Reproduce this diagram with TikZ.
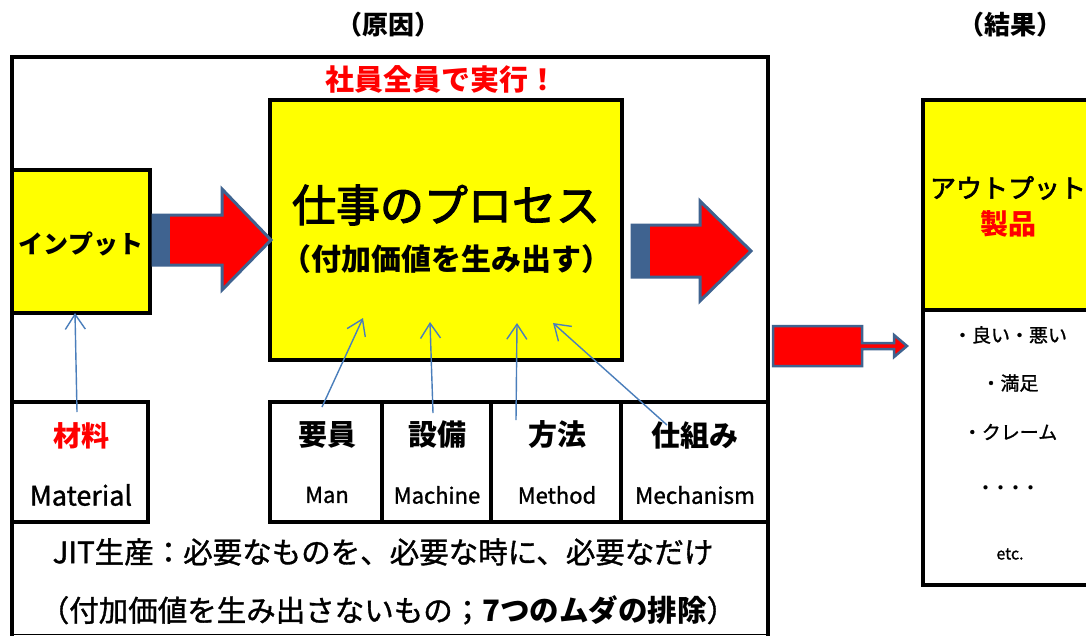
\documentclass[tikz,border=0pt]{standalone}
\usepackage{fontspec}
\setmainfont{Noto Sans CJK JP}[UprightFeatures={FakeBold=1.2}]
\newfontfamily\medfont{Noto Sans CJK JP}[FakeBold=2.5]
\usetikzlibrary{arrows.meta}
\definecolor{ayellow}{HTML}{FFFF00}
\definecolor{ared}{HTML}{FF0000}
\definecolor{aborder}{HTML}{3F6390}
\definecolor{thinblue}{HTML}{4A7EBB}
\tikzset{
  frame/.style={draw=black,line width=4pt},
  ybox/.style={draw=black,line width=4.5pt,fill=ayellow},
  wbox/.style={draw=black,line width=4pt,fill=white},
  bigarrow/.style={draw=aborder,line width=3pt,fill=ared,line join=miter},
  tail/.style={fill=aborder},
  thin/.style={draw=thinblue,line width=1.4pt,-{Straight Barb[length=15pt,width=20pt,line width=1.4pt]}},
  lbl/.style={inner sep=0pt,anchor=center},
}
\newcommand{\fs}[1]{\fontsize{#1}{#1}\selectfont}
\begin{document}
\begin{tikzpicture}[x=1pt,y=-1pt]
\useasboundingbox (0,0) rectangle (1086,635);
\fill[white] (0,0) rectangle (1086,635);
% titles
\node[lbl] (t1) at (388,25) {\fs{26}\bfseries （原因）};
\node[lbl] (t2) at (1010,25) {\fs{26}\bfseries （結果）};
% outer frame
\draw[black,line width=0.8pt] (12,634) -- (768,634);
\draw[frame] (12,640) -- (12,57) -- (768,57) -- (768,640);
\node[lbl,text=ared] (slogan) at (441,79) {\fs{29}\bfseries 社員全員で実行！};
% input box
\draw[ybox] (12,170) rectangle (150,313);
\node[lbl] (input) at (81,244) {\fs{25}\bfseries インプット};
\coordinate (inbot) at (75,313);
% process box
\draw[ybox] (270,100) rectangle (622,360);
\node[lbl] (proc1) at (446,205) {\fs{44}\medfont 仕事のプロセス};
\node[lbl] (proc2) at (446,259) {\fs{30}\bfseries （付加価値を生み出す）};
% big arrow 1
\draw[bigarrow] (153,215) -- (222,215) -- (222,189) -- (271,240) -- (222,290) -- (222,265) -- (153,265) -- cycle;
\fill[tail] (152,214) rectangle (170,266);
% big arrow 2
\draw[bigarrow] (632,225) -- (700,225) -- (700,201) -- (751,251) -- (700,301) -- (700,277) -- (632,277) -- cycle;
\fill[tail] (631,224) rectangle (650,278);
% small arrow 3
\draw[bigarrow,line width=2.5pt] (773,326) -- (862,326) -- (862,343) -- (894,343) -- (894,335) -- (907,346) -- (894,357) -- (894,349) -- (862,349) -- (862,366) -- (773,366) -- cycle;
% output box
\draw[wbox] (923,310) rectangle (1095,585);
\draw[ybox] (923,100) rectangle (1095,310);
\node[lbl] (out1) at (1008,188) {\fs{26}\medfont アウトプット};
\node[lbl,text=ared] (out2) at (1008,224) {\fs{28}\bfseries 製品};
\node[lbl] (r1) at (1010,335) {\fs{19}・良い・悪い};
\node[lbl] (r2) at (1010,383) {\fs{19}・満足};
\node[lbl] (r3) at (1010,432) {\fs{19}・クレーム};
\node[lbl] (r4) at (1008,490) {\fs{15}\bfseries ・・・・};
\node[lbl] (r5) at (1010,554) {\fs{16}etc.};
% bottom row
\draw[wbox] (12,402) rectangle (148,522);
\node[lbl,text=ared] (mat1) at (81,436) {\fs{28}\bfseries 材料};
\node[lbl] (mat2) at (81,495) {\fs{27}Material};
\coordinate (matsrc) at (77,412);
\draw[wbox] (270,402) rectangle (382,522);
\draw[wbox] (382,402) rectangle (491,522);
\draw[wbox] (491,402) rectangle (621,522);
\draw[wbox] (621,402) rectangle (768,522);
\node[lbl] (man1) at (327,435) {\fs{29}\bfseries 要員};
\node[lbl] (man2) at (327,495) {\fs{22}Man};
\node[lbl] (mac1) at (437,435) {\fs{29}\bfseries 設備};
\node[lbl] (mac2) at (437,495) {\fs{22}Machine};
\node[lbl] (met1) at (557,435) {\fs{29}\bfseries 方法};
\node[lbl] (met2) at (557,495) {\fs{22}Method};
\node[lbl] (mec1) at (695,435) {\fs{29}\bfseries 仕組み};
\node[lbl] (mec2) at (695,495) {\fs{22.5}Mechanism};
% redraw frame vertical edges over boxes
\draw[frame] (12,170) -- (12,640);
\draw[frame] (768,395) -- (768,640);
% bottom text
\node[lbl] (jit1) at (383,552) {\fs{29.5}JIT生産：必要なものを、必要な時に、必要なだけ};
\node[lbl] (jit2) at (388,610) {\fs{29.5}（付加価値を生み出さないもの；\textbf{7つのムダの排除}）};
% thin arrows
\coordinate (manS) at (322,407);
\coordinate (manT) at (363,318);
\coordinate (macS) at (433,413);
\coordinate (macT) at (430,322);
\coordinate (metS) at (516,420);
\coordinate (metT) at (517,323);
\coordinate (mecS) at (667,425);
\coordinate (mecT) at (553,323);
\draw[thin] (matsrc) -- (inbot);
\draw[thin] (manS) -- (manT);
\draw[thin] (macS) -- (macT);
\draw[thin] (metS) -- (metT);
\draw[thin] (mecS) -- (mecT);
\end{tikzpicture}
\end{document}
